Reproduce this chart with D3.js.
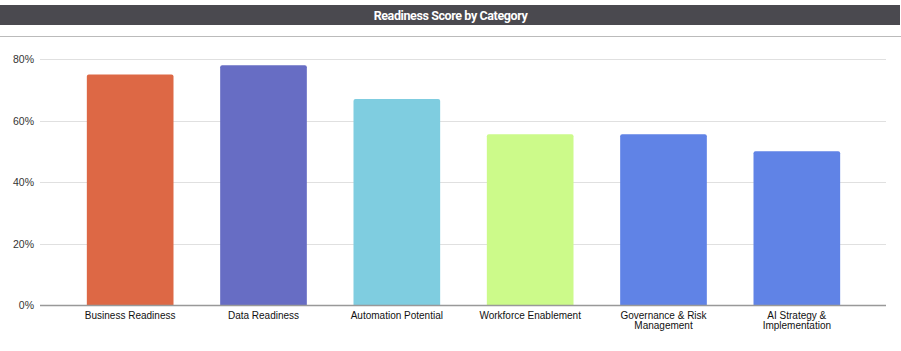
<!DOCTYPE html>
<html>
<head>
<meta charset="utf-8">
<script src="https://cdn.jsdelivr.net/npm/d3@7"></script>
<style>
  body { margin: 0; background: #fff; }
  svg { display: block; }
</style>
</head>
<body>
<div id="chart"><svg></svg></div>
<script>
const categories = ['Business Readiness', 'Data Readiness', 'Automation Potential',
  'Workforce Enablement', 'Governance & Risk Management', 'AI Strategy & Implementation']
const scores = [75, 78, 67, 55.5, 55.5, 50]
const colors = ['#dd6845', '#676dc4', '#7fcde0', '#ccfa8a', '#6083e6', '#6083e6']
const yTicks = [0, 20, 40, 60, 80]
// long labels get split over two lines, like the original
const labelLines = {
  'Governance & Risk Management': ['Governance & Risk', 'Management'],
  'AI Strategy & Implementation': ['AI Strategy &', 'Implementation']
}

const width = 901
const height = 351

const svg = d3.select('#chart').select('svg')
  .attr('width', width)
  .attr('height', height)

// title bar
svg.append('rect')
  .attr('x', 0).attr('y', 5)
  .attr('width', 900).attr('height', 20)
  .attr('fill', '#4a494f')
svg.append('text')
  .attr('x', width / 2).attr('y', 19.5)
  .attr('text-anchor', 'middle')
  .attr('fill', '#fff')
  .attr('font-family', 'Roboto, sans-serif')
  .attr('font-weight', 'bold')
  .attr('font-size', 12.5)
  .attr('letter-spacing', -0.4)
  .text('Readiness Score by Category')

svg.append('line')
  .attr('x1', 0).attr('x2', width)
  .attr('y1', 36.5).attr('y2', 36.5)
  .attr('stroke', '#bbb')

const x = d3.scaleBand()
  .domain(categories)
  .range([63.5, 863.5])
  .paddingInner(0.35)
  .paddingOuter(0.175)

const y = d3.scaleLinear()
  .domain([0, 80])
  .range([305, 59])

// gridlines + y labels
const grid = svg.append('g')
grid.selectAll('line')
  .data(yTicks.filter(d => d > 0))
  .join('line')
  .attr('x1', 40).attr('x2', 886)
  .attr('y1', d => Math.round(y(d)) + 0.5)
  .attr('y2', d => Math.round(y(d)) + 0.5)
  .attr('stroke', '#e0e0e0')

grid.selectAll('text')
  .data(yTicks)
  .join('text')
  .attr('x', 34)
  .attr('y', d => y(d) + 4)
  .attr('text-anchor', 'end')
  .attr('font-family', 'Liberation Sans, Arial, sans-serif')
  .attr('font-size', 10.5)
  .attr('fill', '#333')
  .text(d => d + '%')

// bars
svg.append('g')
  .selectAll('path')
  .data(categories)
  .join('path')
  .attr('fill', (d, i) => colors[i])
  .attr('d', (d, i) => {
    const x0 = x(d)
    const w = x.bandwidth()
    const top = y(scores[i])
    const bottom = y(0)
    const r = 2
    return `M${x0},${bottom}V${top + r}Q${x0},${top} ${x0 + r},${top}` +
      `H${x0 + w - r}Q${x0 + w},${top} ${x0 + w},${top + r}V${bottom}Z`
  })

// baseline
svg.append('line')
  .attr('x1', 40).attr('x2', 886)
  .attr('y1', 305.5).attr('y2', 305.5)
  .attr('stroke', '#999')
  .attr('stroke-width', 1.5)

// x labels
const xl = svg.append('g')
  .selectAll('text')
  .data(categories)
  .join('text')
  .attr('x', d => x(d) + x.bandwidth() / 2)
  .attr('y', 319)
  .attr('text-anchor', 'middle')
  .attr('font-family', 'Liberation Sans, Arial, sans-serif')
  .attr('font-size', 10)
  .attr('fill', '#111')

xl.selectAll('tspan')
  .data(d => labelLines[d] || [d])
  .join('tspan')
  .attr('x', function () { return d3.select(this.parentNode).attr('x') })
  .attr('dy', (d, i) => i === 0 ? 0 : 10)
  .text(d => d)
</script>
</body>
</html>
